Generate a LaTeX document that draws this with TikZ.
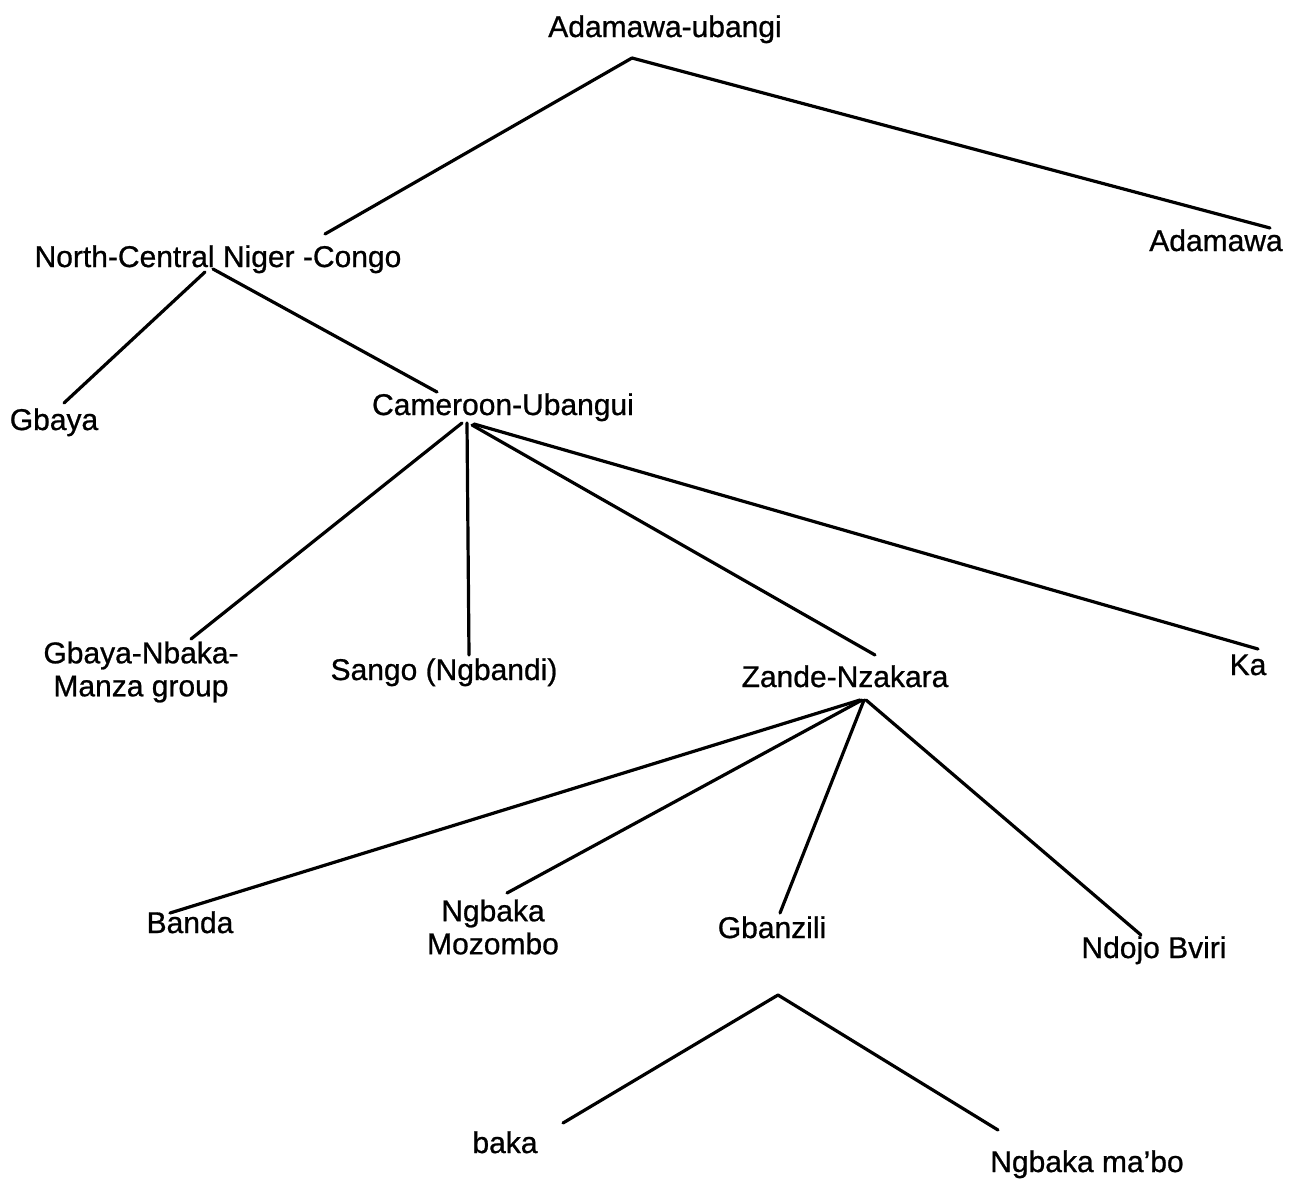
\documentclass[tikz,border=0pt]{standalone}
\usepackage{fontspec}
\setmainfont{Liberation Sans}[FakeBold=0.8]
\usetikzlibrary{calc}
\begin{document}
\begin{tikzpicture}[x=0.5pt,y=-0.5pt,
  lbl/.style={inner sep=0pt, outer sep=0pt, font=\fontsize{15}{16.5}\selectfont, anchor=base},
  lbltwo/.style={inner sep=0pt, outer sep=0pt, font=\fontsize{15}{16.5}\selectfont, align=center, anchor=center},
  edge/.style={line width=1.6pt, line cap=round, line join=round}]
\fill[white] (0,0) rectangle (1290,1179);
\useasboundingbox (0,0) rectangle (1290,1179);

% nodes
\node[lbl] (top) at (665,37) {Adamawa-ubangi};
\node[lbl] (ncnc) at (218,267) {North-Central Niger -Congo};
\node[lbl] (adamawa) at (1216,251) {Adamawa};
\node[lbl] (gbaya) at (54,430) {Gbaya};
\node[lbl] (cam) at (503,415) {Cameroon-Ubangui};
\node[lbltwo] (gnm) at (141,672) {Gbaya-Nbaka-\\Manza group};
\node[lbl] (sango) at (444,680) {Sango (Ngbandi)};
\node[lbl] (zande) at (845,687) {Zande-Nzakara};
\node[lbl] (ka) at (1248,675) {Ka};
\node[lbl] (banda) at (190,933) {Banda};
\node[lbltwo] (ngbaka) at (493,927) {Ngbaka\\Mozombo};
\node[lbl] (gbanzili) at (772,938) {Gbanzili};
\node[lbl] (ndojo) at (1154,958) {Ndojo Bviri};
\coordinate (gbapex) at (778,995);
\node[lbl] (baka) at (505,1153) {baka};
\node[lbl] (mabo) at (1087,1172) {Ngbaka ma’bo};

% connectors
\draw[edge] ($(ncnc.base)+(107,-33)$) -- ($(top.base)+(-33,21)$) -- ($(adamawa.base)+(54,-23)$);
\draw[edge] ($(ncnc.base)+(-13,5)$) -- ($(gbaya.base)+(10,-27)$);
\draw[edge] ($(ncnc.base)+(-5,2)$) -- ($(cam.base)+(-66,-23)$);
\draw[edge] ($(cam.base)+(-41,8)$) -- ($(gnm.center)+(50,-33)$);
\draw[edge] ($(cam.base)+(-36,8)$) -- ($(sango.base)+(25,-25)$);
\draw[edge] ($(cam.base)+(-31,10)$) -- ($(zande.base)+(30,-32)$);
\draw[edge] ($(cam.base)+(-29,9)$) -- ($(ka.base)+(10,-26)$);
\draw[edge] ($(zande.base)+(15,13)$) -- ($(banda.base)+(-20,-20)$);
\draw[edge] ($(zande.base)+(17,13)$) -- ($(ngbaka.center)+(14,-34)$);
\draw[edge] ($(zande.base)+(19,13)$) -- ($(gbanzili.base)+(8,-25)$);
\draw[edge] ($(zande.base)+(21,13)$) -- ($(ndojo.base)+(-13,-23)$);
\draw[edge] ($(baka.base)+(58,-30)$) -- (gbapex) -- ($(mabo.base)+(-89,-42)$);
\end{tikzpicture}
\end{document}
